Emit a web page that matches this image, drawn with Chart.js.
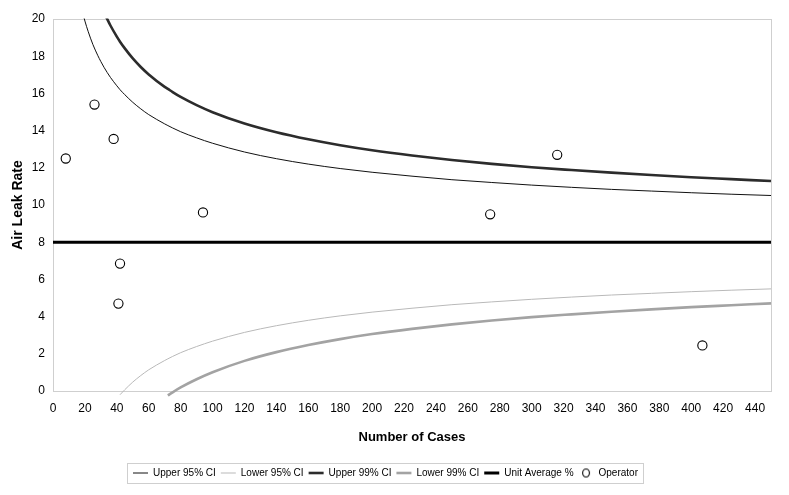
<!DOCTYPE html>
<html>
<head>
<meta charset="utf-8">
<title>Air Leak Rate funnel plot</title>
<script src="https://cdn.jsdelivr.net/npm/chart.js@4.4.1/dist/chart.umd.min.js"></script>
<style>
  html, body { margin: 0; padding: 0; background: #fff; }
  #wrap { width: 789px; height: 495px; }
</style>
</head>
<body>
<div id="wrap"><canvas id="leakChart" width="789" height="495"></canvas></div>
<script>
// values
const caseSteps = [18, 20, 22, 25, 28, 30, 32, 34, 36, 40, 42, 45, 50, 55, 60, 70, 72, 75, 80, 90,
  100, 120, 140, 160, 180, 200, 225, 250, 275, 300, 325, 350, 375, 400, 425, 450];

const upper95 = [20.53, 19.89, 19.34, 18.63, 18.05, 17.71, 17.40, 17.12, 16.86, 16.41, 16.20, 15.93,
  15.52, 15.17, 14.86, 14.36, 14.27, 14.14, 13.94, 13.61, 13.32, 12.85, 12.49, 12.20, 11.96, 11.76,
  11.55, 11.36, 11.21, 11.07, 10.95, 10.84, 10.75, 10.66, 10.58, 10.51];

const upper99 = [null, null, null, null, null, null, 20.35, 19.99, 19.65, 19.05, 18.78, 18.42,
  17.88, 17.42, 17.02, 16.35, 16.24, 16.07, 15.81, 15.37, 14.99, 14.38, 13.91, 13.53, 13.21, 12.94,
  12.66, 12.42, 12.21, 12.03, 11.88, 11.74, 11.61, 11.49, 11.39, 11.29];

const lower95 = [null, null, null, null, null, null, null, null, null, null, -0.20, 0.07,
  0.48, 0.83, 1.14, 1.64, 1.73, 1.86, 2.06, 2.39, 2.68, 3.15, 3.51, 3.80, 4.04, 4.24,
  4.45, 4.64, 4.79, 4.93, 5.05, 5.16, 5.25, 5.34, 5.42, 5.49];

const lower99 = [null, null, null, null, null, null, null, null, null, null, null, null,
  null, null, null, null, -0.24, -0.07, 0.19, 0.63, 1.01, 1.62, 2.09, 2.47, 2.79, 3.06,
  3.34, 3.58, 3.79, 3.97, 4.12, 4.26, 4.39, 4.51, 4.61, 4.71];

const averageX = [0, 450];
const averageY = [8, 8];

const operatorCases = [8, 26, 38, 41, 42, 94, 274, 316, 407];
const operatorRates = [12.5, 15.4, 13.55, 4.7, 6.85, 9.6, 9.5, 12.7, 2.45];

const seriesNames = ['Upper 95% CI', 'Lower 95% CI', 'Upper 99% CI', 'Lower 99% CI', 'Unit Average %', 'Operator'];

const fontFamily = '"Liberation Sans", Arial, sans-serif';

function pairUp(xs, ys) {
  return xs.map((x, i) => ({ x: x, y: ys[i] })).filter(p => p.y !== null);
}

// small open circle for the legend entry of the operators
const operatorIcon = document.createElement('canvas');
operatorIcon.width = 10;
operatorIcon.height = 11;
(function () {
  const c = operatorIcon.getContext('2d');
  c.strokeStyle = '#000';
  c.lineWidth = 1.1;
  c.beginPath();
  c.ellipse(5, 5.5, 3.4, 4, 0, 0, Math.PI * 2);
  c.stroke();
})();

function lineSet(label, ys, color, width, lowCurve) {
  return {
    label: label,
    data: pairUp(caseSteps, ys),
    borderColor: color,
    backgroundColor: color,
    borderWidth: width,
    pointRadius: 0,
    pointHoverRadius: 0,
    pointBorderWidth: width,
    cubicInterpolationMode: 'monotone',
    fill: false,
    order: 1,
    clip: lowCurve ? { left: 0, top: 0, right: 0, bottom: 7 } : 0.5
  };
}

// light grey frame round the plot area
const plotFrame = {
  id: 'plotFrame',
  beforeDatasetsDraw(chart) {
    const { ctx, chartArea: a } = chart;
    ctx.save();
    ctx.strokeStyle = '#cfcfcf';
    ctx.lineWidth = 1;
    ctx.strokeRect(Math.round(a.left) + 0.5, Math.round(a.top) + 0.5,
      Math.round(a.right - a.left), Math.round(a.bottom - a.top));
    ctx.restore();
  }
};

// box round the legend, as in the spreadsheet
const legendBox = {
  id: 'legendBox',
  afterDraw(chart) {
    const boxes = chart.legend.legendHitBoxes;
    if (!boxes || !boxes.length) return;
    const left = Math.min(...boxes.map(b => b.left)) - 6;
    const right = Math.max(...boxes.map(b => b.left + b.width)) + 5;
    const top = Math.min(...boxes.map(b => b.top)) - 5;
    const bottom = Math.max(...boxes.map(b => b.top + b.height)) + 5;
    const ctx = chart.ctx;
    ctx.save();
    ctx.strokeStyle = '#cfcfcf';
    ctx.lineWidth = 1;
    ctx.strokeRect(Math.round(left) + 0.5, Math.round(top) + 0.5, Math.round(right - left), Math.round(bottom - top));
    ctx.restore();
  }
};

const leakChart = new Chart(document.getElementById('leakChart'), {
  type: 'line',
  data: {
    datasets: [
      lineSet(seriesNames[0], upper95, '#111111', 1, false),
      lineSet(seriesNames[1], lower95, '#b9b9b9', 1, true),
      lineSet(seriesNames[2], upper99, '#2c2c2c', 2.6, false),
      lineSet(seriesNames[3], lower99, '#a3a3a3', 2.6, true),
      {
        label: seriesNames[4],
        data: pairUp(averageX, averageY),
        borderColor: '#000',
        backgroundColor: '#000',
        borderWidth: 3,
        pointRadius: 0,
        pointHoverRadius: 0,
        pointBorderWidth: 3,
        order: 1
      },
      {
        label: seriesNames[5],
        data: pairUp(operatorCases, operatorRates),
        showLine: false,
        pointStyle: 'circle',
        pointRadius: 4.6,
        pointHoverRadius: 4.6,
        pointBorderWidth: 1.1,
        pointBorderColor: '#000',
        pointBackgroundColor: '#fff',
        borderColor: '#000',
        backgroundColor: '#fff',
        order: 0
      }
    ]
  },
  options: {
    responsive: false,
    animation: false,
    events: [],
    layout: { padding: { top: 19, right: 18, bottom: 7, left: 0 } },
    scales: {
      x: {
        type: 'linear',
        min: 0,
        max: 450,
        grid: { display: false, drawTicks: false },
        border: { display: false },
        ticks: {
          stepSize: 20,
          includeBounds: false,
          maxRotation: 0,
          autoSkip: false,
          padding: 10,
          color: '#000',
          font: { family: fontFamily, size: 12 }
        },
        title: {
          display: true,
          text: 'Number of Cases',
          color: '#000',
          font: { family: fontFamily, size: 13, weight: 'bold' },
          padding: { top: 0, bottom: 18 }
        },
        afterFit(scale) { scale.height = 72; }
      },
      y: {
        min: 0,
        max: 20,
        grid: { display: false, drawTicks: false },
        border: { display: false },
        ticks: {
          stepSize: 2,
          padding: 8,
          color: '#000',
          font: { family: fontFamily, size: 12 }
        },
        title: {
          display: true,
          text: 'Air Leak Rate',
          color: '#000',
          font: { family: fontFamily, size: 14, weight: 'bold' },
          padding: { top: 10, bottom: 0 }
        },
        afterFit(scale) { scale.width = 53; }
      }
    },
    plugins: {
      tooltip: { enabled: false },
      legend: {
        position: 'bottom',
        labels: {
          usePointStyle: true,
          pointStyleWidth: 15,
          padding: 5,
          color: '#000',
          font: { family: fontFamily, size: 10 },
          sort: (a, b) => a.datasetIndex - b.datasetIndex,
          generateLabels(chart) {
            const items = Chart.defaults.plugins.legend.labels.generateLabels(chart);
            items.forEach(item => {
              const ds = chart.data.datasets[item.datasetIndex];
              if (ds.showLine === false) {
                item.pointStyle = operatorIcon;
              } else {
                item.pointStyle = 'line';
                item.lineWidth = ds.borderWidth;
                item.strokeStyle = ds.borderColor;
              }
            });
            return items;
          }
        }
      }
    }
  },
  plugins: [plotFrame, legendBox]
});
</script>
</body>
</html>
